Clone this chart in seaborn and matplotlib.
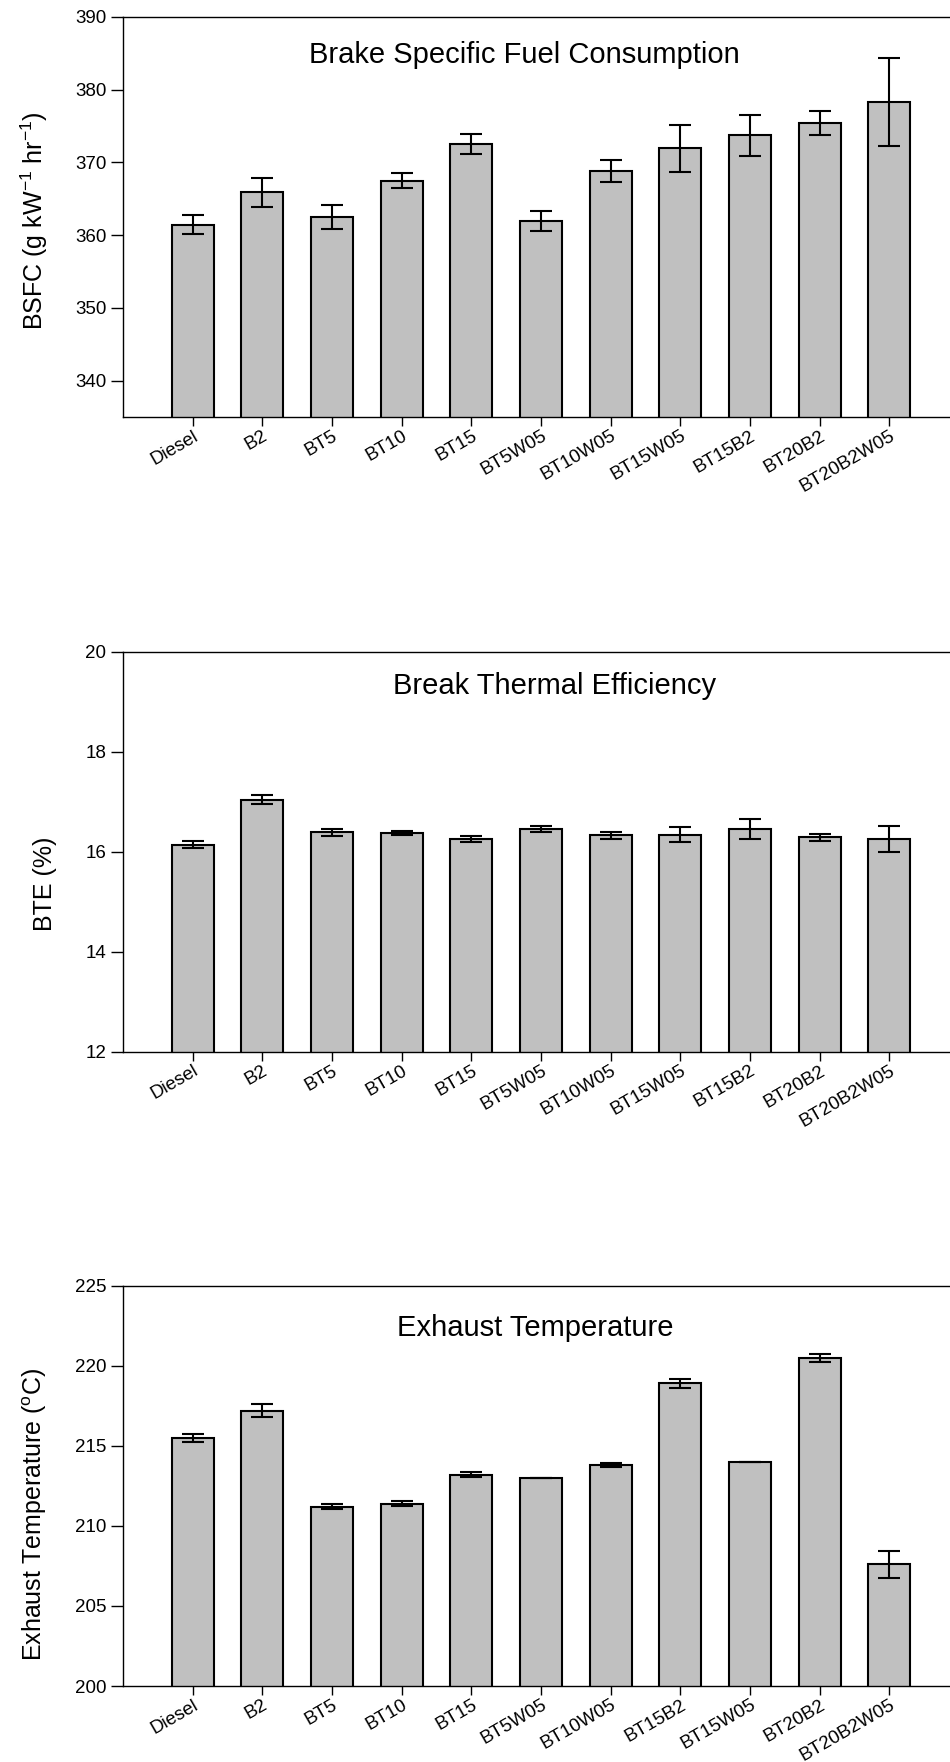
import matplotlib
matplotlib.use("Agg")
import matplotlib.pyplot as plt
import seaborn as sns
import pandas as pd
import numpy as np

## Data
fuels = ["Diesel", "B2", "BT5", "BT10", "BT15", "BT5W05", "BT10W05",
         "BT15W05", "BT15B2", "BT20B2", "BT20B2W05"]
# exhaust panel has BT15B2 / BT15W05 swapped
fuels_exh = ["Diesel", "B2", "BT5", "BT10", "BT15", "BT5W05", "BT10W05",
             "BT15B2", "BT15W05", "BT20B2", "BT20B2W05"]

bsfc = [361.4, 365.9, 362.5, 367.5, 372.5, 361.9, 368.8, 371.9, 373.7, 375.4, 378.3]
bsfc_err = [1.3, 2.0, 1.65, 1.0, 1.35, 1.35, 1.55, 3.25, 2.85, 1.6, 6.0]

bte = [16.14, 17.04, 16.39, 16.38, 16.25, 16.46, 16.33, 16.34, 16.45, 16.29, 16.25]
bte_err = [0.07, 0.09, 0.07, 0.04, 0.055, 0.06, 0.07, 0.15, 0.2, 0.07, 0.26]

exh = [215.5, 217.2, 211.2, 211.4, 213.2, 213.0, 213.8, 218.9, 214.0, 220.5, 207.6]
exh_err = [0.25, 0.42, 0.15, 0.18, 0.15, 0.0, 0.15, 0.3, 0.0, 0.24, 0.84]

## Style
sns.set_style("ticks")
plt.rcParams["font.family"] = ["Liberation Sans", "DejaVu Sans"]
plt.rcParams["mathtext.fontset"] = "custom"
plt.rcParams["mathtext.rm"] = "Liberation Sans"
plt.rcParams["mathtext.default"] = "regular"
plt.rcParams["text.color"] = "black"
plt.rcParams["axes.labelcolor"] = "black"
plt.rcParams["xtick.color"] = "black"
plt.rcParams["ytick.color"] = "black"

fig = plt.figure(figsize=(9.5, 17.62), dpi=100)

panels = [
    # (bottom, names, values, errors, ylim, yticks, ylabel, title, title pos, label pos)
    (0.7633, fuels, bsfc, bsfc_err, (335, 390), np.arange(340, 391, 10),
     "BSFC (g kW$^{-1}$ hr$^{-1}$)", "Brake Specific Fuel Consumption",
     (0.485, 0.905), (-0.088, 0.49)),
    (0.4030, fuels, bte, bte_err, (12, 20), np.arange(12, 21, 2),
     "BTE (%)", "Break Thermal Efficiency",
     (0.522, 0.915), (-0.08, 0.42)),
    (0.0431, fuels_exh, exh, exh_err, (200, 225), np.arange(200, 226, 5),
     "Exhaust Temperature ($^{o}$C)", "Exhaust Temperature",
     (0.498, 0.895), (-0.09, 0.43)),
]

for bottom, names, vals, errs, ylim, yticks, ylabel, title, tpos, lpos in panels:
    ax = fig.add_axes([0.1295, bottom, 0.8705, 0.2272])
    df = pd.DataFrame({"fuel": names, "value": vals})
    sns.barplot(data=df, x="fuel", y="value", color="#c0c0c0", saturation=1,
                edgecolor="black", linewidth=1.5, width=0.6, ax=ax)
    ax.errorbar(np.arange(len(names)), vals, yerr=errs, fmt="none",
                ecolor="black", elinewidth=1.5, capsize=8, capthick=1.5)

    ax.set_ylim(*ylim)
    ax.set_yticks(yticks)
    ax.set_xlim(-1, 10.87)
    ax.set_xlabel("")
    ax.set_ylabel(ylabel, fontsize=18)
    ax.yaxis.set_label_coords(*lpos)

    ax.text(tpos[0], tpos[1], title, transform=ax.transAxes, ha="center",
            va="center", fontsize=21)

    ax.tick_params(axis="y", direction="out", length=9, width=1, labelsize=13.5, pad=3)
    ax.tick_params(axis="x", direction="out", length=6.5, width=1, labelsize=13.5, pad=1)
    plt.setp(ax.get_xticklabels(), rotation=30, ha="right", rotation_mode="anchor")

    for s in ["left", "top", "bottom"]:
        ax.spines[s].set_linewidth(1.0)
        ax.spines[s].set_color("black")
    ax.spines["right"].set_visible(False)

fig.savefig("out.png", dpi=100)
